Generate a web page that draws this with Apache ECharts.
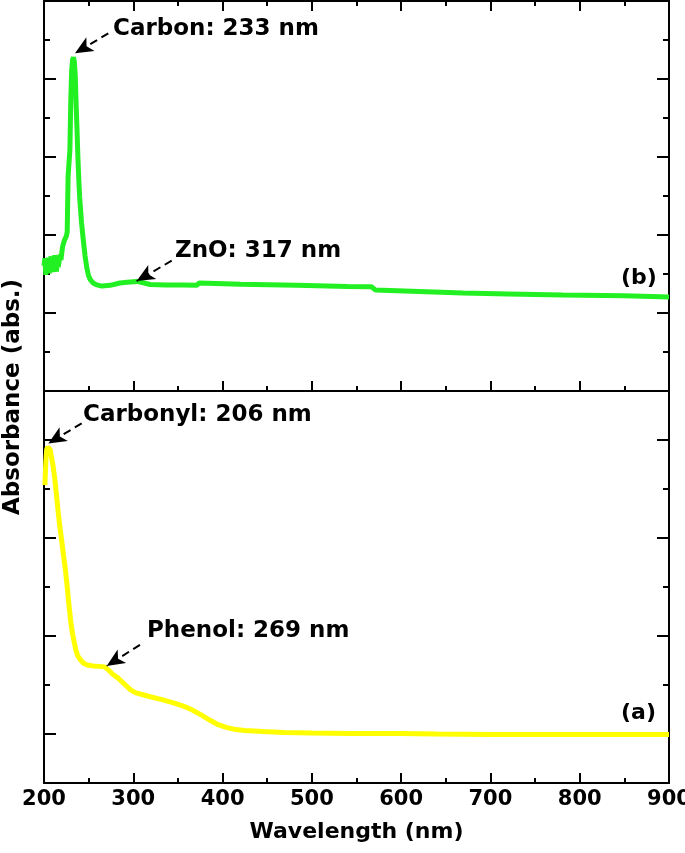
<!DOCTYPE html>
<html>
<head>
<meta charset="utf-8">
<script src="https://cdn.jsdelivr.net/npm/echarts@6/dist/echarts.min.js"></script>
<style>
html,body{margin:0;padding:0;background:#fff;}
#c{width:685px;height:853px;}
</style>
</head>
<body>
<div id="c"></div>
<script>
// ---- data ----
const xTickValues = [200, 300, 400, 500, 600, 700, 800, 900];

// (b) green curve: wavelength (nm) and absorbance (arb.)
const wlB = [200,201,202,203,204,205,206,207,208,209,210,211,212,213,214,215,216,217,218,219,
  220,221,222,223,224,225,226,227,228,229,230,231,232,233,234,235,236,237,238,239,240,
  242,244,246,248,250,252,255,259,265,274,285,293,304,312,319,337,355,371,374,420,483,540,
  567,571,620,669,720,781,850,900];
const absB = [3.21,3.40,2.98,3.30,3.06,3.42,3.02,3.28,3.45,3.05,3.33,3.12,3.48,3.20,3.06,3.40,3.18,3.33,3.50,3.36,
  3.56,3.72,3.77,3.87,3.82,3.97,4.08,5.51,5.56,6.18,7.46,8.23,8.49,8.56,8.44,8.10,7.33,6.69,5.97,5.41,4.95,
  4.33,3.87,3.46,3.15,2.95,2.85,2.77,2.72,2.69,2.71,2.77,2.79,2.81,2.77,2.73,2.72,2.72,2.71,2.77,2.74,2.71,2.68,
  2.67,2.59,2.55,2.51,2.49,2.46,2.44,2.41];

// (a) yellow curve
const wlA = [201,202,203,204,205,206,207,208,210,212,214,216,218,220,222,224,226,228,230,232,234,236,238,241,244,248,
  255,262,268,272,277,283,290,297,303,317,332,346,356,366,376,385,395,405,415,425,445,469,500,542,600,640,700,738,800,900];
const absA = [6.08,6.55,6.80,6.86,6.87,6.86,6.80,6.69,6.49,6.22,5.88,5.51,5.20,4.92,4.63,4.35,4.00,3.63,3.29,3.04,2.86,2.69,2.59,2.51,2.45,2.41,
  2.39,2.38,2.37,2.31,2.22,2.14,2.02,1.90,1.84,1.77,1.70,1.63,1.57,1.49,1.39,1.29,1.19,1.13,1.09,1.07,1.05,1.03,1.02,1.01,1.01,1.00,0.99,0.99,0.99,0.99];

// annotation arrows: [fromX, fromY, toX, toY] in data units
const arrowCarbon = [272.0, 9.17, 234.7, 8.66];
const arrowZnO = [343.0, 3.34, 303.8, 2.82];
const arrowCarbonyl = [242.2, 7.34, 204.8, 6.93];
const arrowPhenol = [307.5, 2.82, 270.2, 2.39];

// ---- chart ----
const FONT = 'DejaVu Sans';
const chart = echarts.init(document.getElementById('c'), null, {renderer: 'canvas'});
const zip = (xs, ys) => xs.map((x, i) => [x, ys[i]]);
const xMin = xTickValues[0], xMax = xTickValues[xTickValues.length - 1];
const xInt = xTickValues[1] - xTickValues[0];

const axisLine = {show: true, onZero: false, lineStyle: {color: '#000', width: 2}};

function xAxis(gridIndex, position, showLabels, showTicks) {
  return {
    type: 'value', gridIndex, position, min: xMin, max: xMax, interval: xInt,
    axisLine,
    axisTick: {show: showTicks, inside: true, length: 10, lineStyle: {color: '#000', width: 2}},
    minorTick: {show: showTicks, splitNumber: 2, length: 5, lineStyle: {color: '#000', width: 2}},
    splitLine: {show: false}, minorSplitLine: {show: false},
    axisLabel: {show: showLabels, color: '#000', fontFamily: FONT, fontWeight: 'bold', fontSize: 21, margin: 6,
      showMinLabel: true, showMaxLabel: true, hideOverlap: false},
    name: showLabels ? 'Wavelength (nm)' : '',
    nameLocation: 'middle', nameGap: 38,
    nameTextStyle: {color: '#000', fontFamily: FONT, fontWeight: 'bold', fontSize: 22}
  };
}
function yAxis(gridIndex, position, max, majorLen, minorLen) {
  return {
    type: 'value', gridIndex, position, min: 0, max, interval: 2,
    axisLine,
    axisTick: {show: true, inside: true, length: majorLen, lineStyle: {color: '#000', width: 2}},
    minorTick: {show: true, splitNumber: 2, length: minorLen, lineStyle: {color: '#000', width: 2}},
    splitLine: {show: false}, minorSplitLine: {show: false},
    axisLabel: {show: false}
  };
}

function arrowPair(a) {
  return [{coord: [a[0], a[1]]}, {coord: [a[2], a[3]]}];
}
const markLineBase = {
  silent: true, symbol: ['none', 'arrow'], symbolSize: [12, 18], label: {show: false},
  emphasis: {disabled: true}, lineStyle: {color: '#000', width: 2, type: [8, 5], opacity: 1},
  animation: false
};

function text(str, x, y, size) {
  return {type: 'text', x, y, style: {text: str, fill: '#000', font: 'bold ' + size + 'px "' + FONT + '"',
    textAlign: 'left', textVerticalAlign: 'middle'}};
}

chart.setOption({
  animation: false,
  backgroundColor: '#fff',
  grid: [
    {left: 44, right: 16, top: 1, height: 390, outerBoundsMode: 'none', containLabel: false},
    {left: 44, right: 16, top: 391, height: 392, outerBoundsMode: 'none', containLabel: false}
  ],
  xAxis: [
    xAxis(0, 'bottom', false, true),
    xAxis(0, 'top', false, true),
    xAxis(1, 'bottom', true, true)
  ],
  yAxis: [
    yAxis(0, 'left', 10, 12, 6),
    yAxis(0, 'right', 10, 12, 6),
    yAxis(1, 'left', 8, 6, 12),
    yAxis(1, 'right', 8, 6, 12)
  ],
  series: [
    {type: 'line', xAxisIndex: 0, yAxisIndex: 0, data: zip(wlB, absB), showSymbol: false,
      lineStyle: {color: '#22f022', width: 5}, itemStyle: {color: '#22f022'}, clip: true,
      markLine: Object.assign({}, markLineBase, {data: [arrowPair(arrowCarbon), arrowPair(arrowZnO)]})},
    {type: 'line', xAxisIndex: 2, yAxisIndex: 2, data: zip(wlA, absA), showSymbol: false,
      lineStyle: {color: '#ffff00', width: 5}, itemStyle: {color: '#ffff00'}, clip: true,
      markLine: Object.assign({}, markLineBase, {data: [arrowPair(arrowCarbonyl), arrowPair(arrowPhenol)]})}
  ],
  graphic: [
    text('Carbon: 233 nm', 113, 29, 23),
    text('ZnO: 317 nm', 175, 251, 23),
    text('Carbonyl: 206 nm', 83, 415, 23),
    text('Phenol: 269 nm', 147, 631, 23),
    text('(b)', 621, 278, 22),
    text('(a)', 621, 713, 22),
    {type: 'text', x: 13, y: 397, rotation: Math.PI / 2,
      style: {text: 'Absorbance (abs.)', fill: '#000', font: 'bold 23px "' + FONT + '"',
        textAlign: 'center', textVerticalAlign: 'middle'}}
  ]
});
</script>
</body>
</html>
